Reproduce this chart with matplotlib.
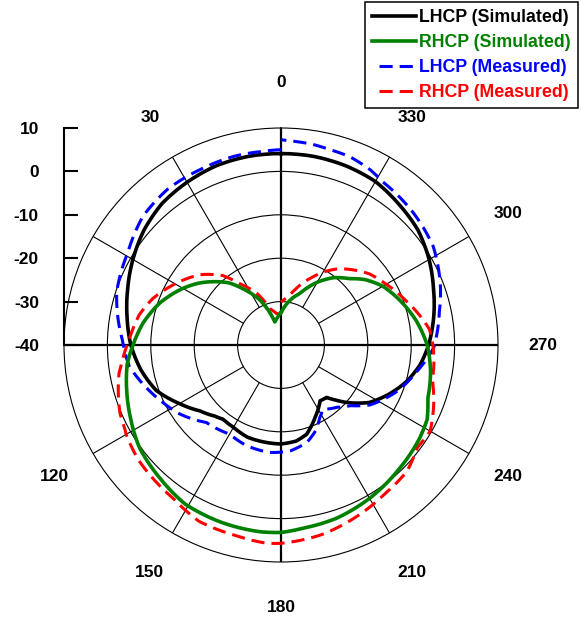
import numpy as np
import matplotlib
matplotlib.use('Agg')
import matplotlib.pyplot as plt

plt.rcParams['font.family'] = ['Liberation Sans', 'DejaVu Sans']
plt.rcParams['font.weight'] = 'bold'
plt.rcParams['axes.unicode_minus'] = False

# angles in degrees (0 at top, counter-clockwise), gain in dB
lhcp_sim_ang = [0, 10, 20, 30, 40, 50, 60, 70, 80, 90, 100, 110, 120, 129, 137, 142, 150, 160,
                171, 180, 189, 196, 205, 215, 221, 225, 229, 237, 246, 254, 262, 270, 280,
                290, 300, 310, 320, 330, 340, 350, 360]
lhcp_sim_db = [4.1, 4.1, 3.9, 3.3, 2.6, 1.2, -0.6, -2.4, -4.0, -5.4, -7.2, -9.4, -13.0, -15.9,
               -17.6, -18.3, -18.1, -17.4, -17.3, -17.2, -17.6, -18.6, -21.5, -24.3, -24.0,
               -22.0, -19.8, -15.7, -12.5, -9.8, -7.6, -6.0, -4.3, -2.6, -0.6, 1.2, 2.3, 3.5,
               3.9, 4.1, 4.1]

rhcp_sim_ang = [0, 7, 15, 20, 25, 34, 40, 47, 53, 60, 71, 81, 90, 97, 106, 115, 126, 138, 149,
                161, 174, 180, 187, 198, 210, 223, 236, 243, 250, 260, 270, 280, 290, 300, 308,
                314, 322, 330, 340, 346, 352, 356, 360]
rhcp_sim_db = [-32.5, -33.6, -34.5, -31.5, -28.6, -24.4, -21.3, -18.6, -16.3, -13.9, -10.4,
               -7.8, -5.9, -4.3, -3.0, -1.6, 0.3, 1.5, 2.8, 3.1, 3.3, 3.2, 2.5, 1.9, 0.8, -0.5,
               -1.5, -2.2, -4.0, -5.0, -6.3, -8.3, -10.6, -12.9, -15.5, -18.0, -20.3, -23.3,
               -27.4, -28.8, -30.4, -31.5, -32.5]

lhcp_meas_ang = [0, 6, 14, 25, 36, 47, 59, 72, 80, 88, 98, 107, 115, 124, 136, 150, 161, 174,
                 185, 195, 202, 208, 213, 222, 229, 236, 248, 259, 269, 274, 282, 290, 303,
                 315, 328, 333, 340, 346, 351, 358, 360]
lhcp_meas_db = [5.0, 4.8, 4.8, 4.5, 4.4, 3.5, 1.2, -0.2, -1.8, -3.4, -4.7, -7.3, -9.5, -11.7,
                -15.2, -16.3, -15.5, -15.1, -15.5, -16.8, -18.7, -21.0, -22.3, -20.7, -18.7,
                -15.3, -11.3, -8.1, -4.8, -4.0, -2.7, -0.9, 1.8, 3.1, 4.3, 5.3, 6.2, 6.4, 6.8,
                7.1, 7.3]

rhcp_meas_ang = [0, 8, 17, 25, 34, 40, 49, 61, 70, 78, 88, 95, 100, 113, 118, 120, 129, 136,
                 145, 155, 166, 176, 180, 192, 203, 215, 225, 233, 240, 249, 257, 263, 270, 276,
                 283, 290, 300, 309, 323, 330, 335, 341, 347, 352, 357, 360]
rhcp_meas_db = [-32.9, -32.7, -31.3, -26.9, -23.0, -19.1, -15.3, -11.5, -8.6, -6.6, -5.0, -3.4,
                -2.1, 0.3, 0.8, 1.2, 2.2, 2.6, 3.2, 4.8, 5.1, 5.8, 5.7, 4.7, 3.3, 1.8, 1.1,
                -0.7, -0.3, -2.3, -4.2, -4.5, -5.0, -5.6, -7.6, -9.6, -12.0, -13.9, -18.0,
                -20.6, -22.7, -25.0, -27.3, -28.8, -29.7, -30.1]

theta_ticks = list(range(0, 360, 30))
theta_labels = ['0', '30', '', '', '120', '150', '180', '210', '240', '270', '300', '330']
r_ticks = [-40, -30, -20, -10, 0, 10]
r_circles = [-30, -20, -10, 0]

fig = plt.figure(figsize=(5.81, 6.18), dpi=100)
ax = fig.add_axes([64 / 581, 1 - 562 / 618, 434 / 581, 434 / 618], projection='polar')
ax.set_theta_zero_location('N')
ax.set_theta_direction(1)
ax.set_rlim(-40, 10)

ax.set_rgrids(r_circles, labels=[''] * len(r_circles))
ax.yaxis.grid(True, color='black', lw=0.8)
ax.set_thetagrids(theta_ticks, theta_labels)
ax.xaxis.grid(False)
ax.tick_params(axis='x', pad=25.5, labelsize=12.5, length=0)
ax.spines['polar'].set_linewidth(0.8)

# spokes between the -30 dB ring and the rim, full axes on the quadrants
for a in theta_ticks:
    t = np.deg2rad(a)
    if a % 90:
        ax.plot([t, t], [-30, 10], color='black', lw=0.8, zorder=1)
    else:
        ax.plot([t, t], [-40, 10], color='black', lw=1.6, zorder=1)

curves = [
    (lhcp_sim_ang, lhcp_sim_db, dict(color='black', lw=2.6, label='LHCP (Simulated)', zorder=3)),
    (rhcp_sim_ang, rhcp_sim_db, dict(color='#008000', lw=2.6, label='RHCP (Simulated)', zorder=4)),
    (lhcp_meas_ang, lhcp_meas_db, dict(color='#0000ff', lw=2.2, dashes=(4.3, 2.3),
                                       label='LHCP (Measured)', zorder=3)),
    (rhcp_meas_ang, rhcp_meas_db, dict(color='#ff0000', lw=2.2, dashes=(4.3, 2.3),
                                       label='RHCP (Measured)', zorder=3)),
]
for ang, db, kw in curves:
    line, = ax.plot(np.deg2rad(ang), db, **kw)
    # let the polar transform bend each segment along the angle
    line.get_path()._interpolation_steps = 40

# dB scale drawn as a separate vertical axis on the left
axr = fig.add_axes([64 / 581, 1 - 345 / 618, 0.0001, 217 / 618])
axr.set_ylim(-40, 10)
axr.set_yticks(r_ticks)
axr.patch.set_visible(False)
for s in ['top', 'right', 'bottom']:
    axr.spines[s].set_visible(False)
axr.spines['left'].set_linewidth(1.5)
axr.set_xticks([])
axr.tick_params(axis='y', direction='in', length=10, width=1.5, pad=18, labelsize=12.5)

leg = fig.legend(loc='upper right', bbox_to_anchor=(578 / 581, 1 - 2 / 618), fontsize=12.8,
                 frameon=True, fancybox=False, edgecolor='black', framealpha=1,
                 borderaxespad=0, handlelength=2.5, handletextpad=0.17, labelspacing=0.45,
                 borderpad=0.4)
leg.get_frame().set_linewidth(1.1)
for txt, ln in zip(leg.get_texts(), leg.get_lines()):
    txt.set_color(ln.get_color())
# dashed keys start with a gap
for ln in leg.get_lines()[2:]:
    ln.set_linestyle((4.3, (4.3, 2.3)))

fig.savefig('out.png', dpi=100)
